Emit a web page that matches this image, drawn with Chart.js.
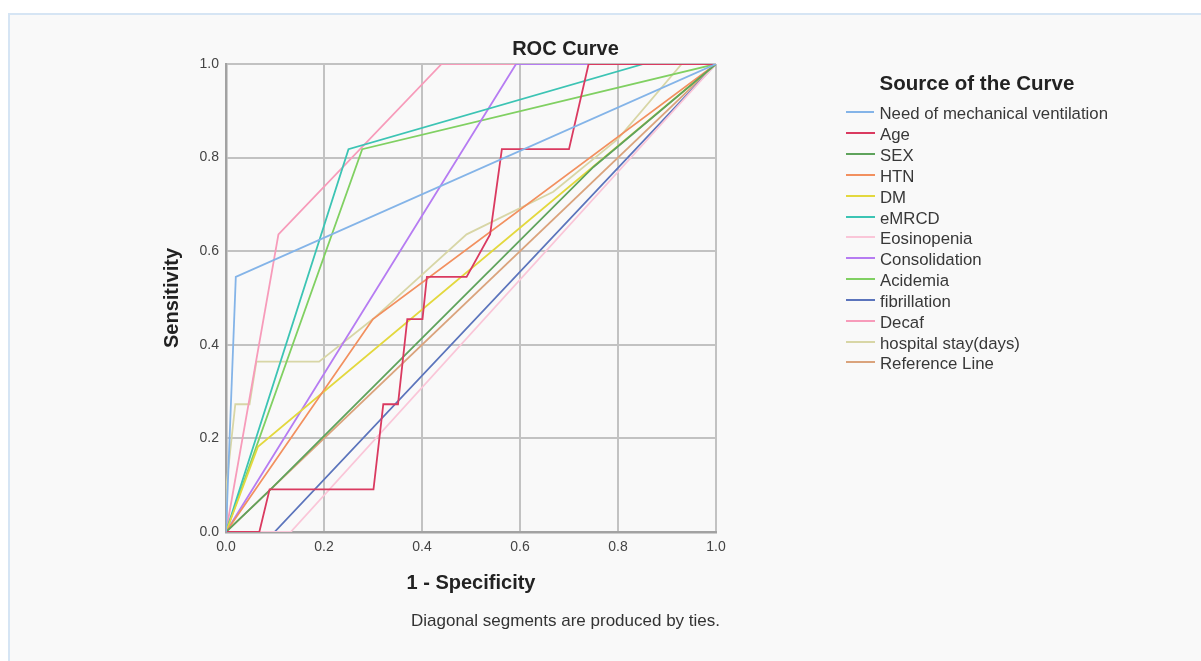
<!DOCTYPE html>
<html>
<head>
<meta charset="utf-8">
<title>ROC Curve</title>
<script src="https://cdn.jsdelivr.net/npm/chart.js@4.4.1/dist/chart.umd.min.js"></script>
<style>
  html, body { margin: 0; padding: 0; background: #fff; }
  body { width: 1201px; height: 661px; overflow: hidden; position: relative; font-family: "Liberation Sans", Arial, sans-serif; }
  .frame { position: absolute; left: 8px; top: 13px; width: 1230px; height: 700px; background: #f9f9f9; border-left: 2px solid #d6e5f4; border-top: 2px solid #d6e5f4; }
  #roc { position: absolute; left: 0; top: 0; }
  .chart-title { position: absolute; left: 0; width: 1131px; text-align: center; color: #222; }
  .main-title { top: 36px; font-size: 20px; font-weight: bold; line-height: 24px; }
  .footnote { top: 611px; font-size: 17px; line-height: 20px; color: #333; }
  #legend { position: absolute; left: 846px; top: 71px; width: 262px; color: #383838; }
  .legend-title { font-size: 20.5px; font-weight: bold; line-height: 24px; text-align: center; color: #222; white-space: nowrap; margin-bottom: 9px; }
  .legend-row { display: flex; align-items: center; height: 20.83px; font-size: 16.8px; white-space: nowrap; }
  .swatch { display: inline-block; width: 29px; height: 2px; margin-right: 5px; position: relative; top: -2px; }
</style>
</head>
<body>
<div class="frame"></div>
<canvas id="roc" width="1201" height="661"></canvas>
<div class="chart-title main-title">ROC Curve</div>
<div class="chart-title footnote">Diagonal segments are produced by ties.</div>
<div id="legend"><div class="legend-title">Source of the Curve</div></div>
<script>
const curveNames = [
  'Need of mechanical ventilation', 'Age', 'SEX', 'HTN', 'DM', 'eMRCD', 'Eosinopenia',
  'Consolidation', 'Acidemia', 'fibrillation', 'Decaf', 'hospital stay(days)', 'Reference Line',
];

const curveColors = [
  '#84b4e8', '#da3a60', '#5fa35c', '#f2905f', '#e3d83e', '#3cc4b4', '#fac6d8',
  '#b67cf2', '#80d062', '#5b74bc', '#f79bba', '#d8d6a6', '#daa37c',
];

// 1 - specificity (x) and sensitivity (y) for each curve
const ventilationX = [0, 0.02, 1];
const ventilationY = [0, 0.545, 1];
const ageX = [0, 0.068, 0.089, 0.301, 0.321, 0.351, 0.37, 0.401, 0.41, 0.491, 0.539, 0.563, 0.70, 0.74, 1];
const ageY = [0, 0, 0.091, 0.091, 0.273, 0.273, 0.455, 0.455, 0.545, 0.545, 0.636, 0.818, 0.818, 1, 1];
const sexX = [0, 0.09, 0.75, 1];
const sexY = [0, 0.09, 0.78, 1];
const htnX = [0, 0.30, 1];
const htnY = [0, 0.455, 1];
const dmX = [0, 0.065, 1];
const dmY = [0, 0.182, 1];
const emrcdX = [0, 0.25, 0.852, 1];
const emrcdY = [0, 0.818, 1, 1];
const eosinopeniaX = [0, 0.132, 1];
const eosinopeniaY = [0, 0, 1];
const consolidationX = [0, 0.592, 1];
const consolidationY = [0, 1, 1];
const acidemiaX = [0, 0.278, 1];
const acidemiaY = [0, 0.818, 1];
const fibrillationX = [0, 0.099, 1];
const fibrillationY = [0, 0, 1];
const decafX = [0, 0.107, 0.44, 1];
const decafY = [0, 0.636, 1, 1];
const stayX = [0, 0, 0.019, 0.048, 0.062, 0.19, 0.30, 0.491, 0.668, 0.80, 0.93, 1];
const stayY = [0, 0.091, 0.273, 0.273, 0.364, 0.364, 0.455, 0.636, 0.727, 0.84, 1, 1];
const referenceX = [0, 1];
const referenceY = [0, 1];

const tickValues = [0, 0.2, 0.4, 0.6, 0.8, 1.0];

const curveX = [ventilationX, ageX, sexX, htnX, dmX, emrcdX, eosinopeniaX,
  consolidationX, acidemiaX, fibrillationX, decafX, stayX, referenceX];
const curveY = [ventilationY, ageY, sexY, htnY, dmY, emrcdY, eosinopeniaY,
  consolidationY, acidemiaY, fibrillationY, decafY, stayY, referenceY];

Chart.defaults.font.family = '"Liberation Sans", Arial, sans-serif';

const datasets = curveNames.map((name, i) => ({
  label: name,
  data: curveX[i].map((x, j) => ({ x: x, y: curveY[i][j] })),
  borderColor: curveColors[i],
  backgroundColor: curveColors[i],
  borderWidth: 1.8,
  pointRadius: 0,
  showLine: true,
  tension: 0,
}));

const axisTicks = {
  color: '#444',
  font: { size: 14 },
  padding: 7,
  callback: (value) => value.toFixed(1),
};

new Chart(document.getElementById('roc'), {
  type: 'scatter',
  data: { datasets: datasets },
  options: {
    responsive: false,
    animation: false,
    layout: { padding: { left: 150, top: 64, right: 485, bottom: 59 } },
    plugins: {
      legend: { display: false },
      tooltip: { enabled: false },
    },
    scales: {
      x: {
        type: 'linear',
        min: 0,
        max: 1,
        afterBuildTicks: (scale) => { scale.ticks = tickValues.map((v) => ({ value: v })); },
        afterFit: (scale) => { scale.height = 70; },
        ticks: axisTicks,
        grid: { color: '#c2c2c2', lineWidth: 2, drawTicks: false },
        border: { color: '#a2a2a2', width: 2.5 },
        title: {
          display: true,
          text: '1 - Specificity',
          color: '#222',
          font: { size: 20, weight: 'bold' },
          padding: { top: 0, bottom: 7 },
        },
      },
      y: {
        type: 'linear',
        min: 0,
        max: 1,
        afterBuildTicks: (scale) => { scale.ticks = tickValues.map((v) => ({ value: v })); },
        afterFit: (scale) => { scale.width = 76; },
        ticks: axisTicks,
        grid: { color: '#c2c2c2', lineWidth: 2, drawTicks: false },
        border: { color: '#a2a2a2', width: 2.5 },
        title: {
          display: true,
          text: 'Sensitivity',
          color: '#222',
          font: { size: 20, weight: 'bold' },
          padding: { top: 10, bottom: 0 },
        },
      },
    },
  },
});

const legendBox = document.getElementById('legend');
curveNames.forEach((name, i) => {
  const row = document.createElement('div');
  row.className = 'legend-row';
  const swatch = document.createElement('span');
  swatch.className = 'swatch';
  swatch.style.background = curveColors[i];
  row.appendChild(swatch);
  row.appendChild(document.createTextNode(name));
  legendBox.appendChild(row);
});
</script>
</body>
</html>
